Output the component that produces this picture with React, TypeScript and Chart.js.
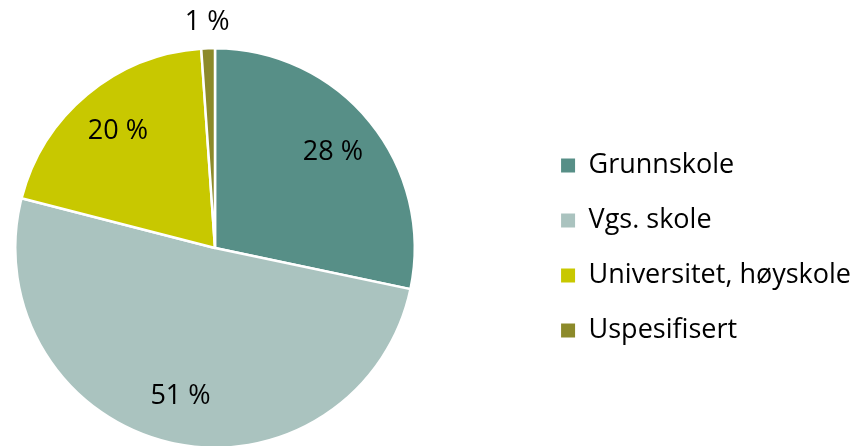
import React, { useEffect, useRef } from "react";
import { Chart, registerables } from "chart.js";

Chart.register(...registerables);

const categories = ["Grunnskole", "Vgs. skole", "Universitet, høyskole", "Uspesifisert"];
const shares = [28.3, 50.7, 19.9, 1.1];
const colors = ["#578F87", "#AAC3BF", "#C8C800", "#8C8A2A"];

const FONT = "'Open Sans', 'DejaVu Sans', sans-serif";
const FONT_SIZE = 27;

// Keep the pie in a square area at the left of the chart area (legend sits far right)
const squarePie = {
  id: "squarePie",
  afterLayout(chart: any) {
    const a = chart.chartArea;
    a.right = a.left + (a.bottom - a.top);
    a.width = a.right - a.left;
  },
};

const pieLabels = {
  id: "pieLabels",
  afterDatasetsDraw(chart: any) {
    const ctx = chart.ctx;
    const meta = chart.getDatasetMeta(0);
    const data = chart.data.datasets[0].data as number[];
    const total = data.reduce((a, b) => a + b, 0);
    ctx.save();
    ctx.fillStyle = "#000";
    ctx.font = `${FONT_SIZE}px ${FONT}`;
    ctx.textAlign = "center";
    ctx.textBaseline = "middle";
    meta.data.forEach((arc: any, i: number) => {
      const { x, y, startAngle, endAngle, outerRadius } = arc.getProps(
        ["x", "y", "startAngle", "endAngle", "outerRadius"],
        true
      );
      const pct = (data[i] / total) * 100;
      const mid = (startAngle + endAngle) / 2;
      const r = pct < 3 ? outerRadius + 26 : outerRadius * 0.76;
      ctx.fillText(`${Math.round(pct)} %`, x + Math.cos(mid) * r, y + Math.sin(mid) * r);
    });
    ctx.restore();
  },
};

export default function App() {
  const ref = useRef<HTMLCanvasElement | null>(null);
  useEffect(() => {
    document.body.style.margin = "0";
    document.body.style.overflow = "hidden";
    const chart = new Chart(ref.current as HTMLCanvasElement, {
      type: "pie",
      data: {
        labels: categories,
        datasets: [
          {
            data: shares,
            backgroundColor: colors,
            borderColor: "#ffffff",
            borderWidth: 2.5,
          },
        ],
      },
      options: {
        responsive: false,
        animation: false,
        layout: { padding: { top: 47, bottom: 3, left: 14, right: 0 } },
        plugins: {
          tooltip: { enabled: false },
          legend: {
            position: "right",
            labels: {
              boxWidth: 14,
              boxHeight: 14,
              padding: 28,
              color: "#000",
              font: { family: FONT, size: FONT_SIZE },
              generateLabels: (c: any) =>
                (c.data.labels as string[]).map((t, i) => ({
                  text: t,
                  fillStyle: colors[i],
                  strokeStyle: colors[i],
                  lineWidth: 0,
                  hidden: false,
                  index: i,
                })),
            },
          },
        },
      },
      plugins: [squarePie, pieLabels],
    });
    return () => chart.destroy();
  }, []);
  return <canvas ref={ref} width={861} height={452} style={{ display: "block" }} />;
}
